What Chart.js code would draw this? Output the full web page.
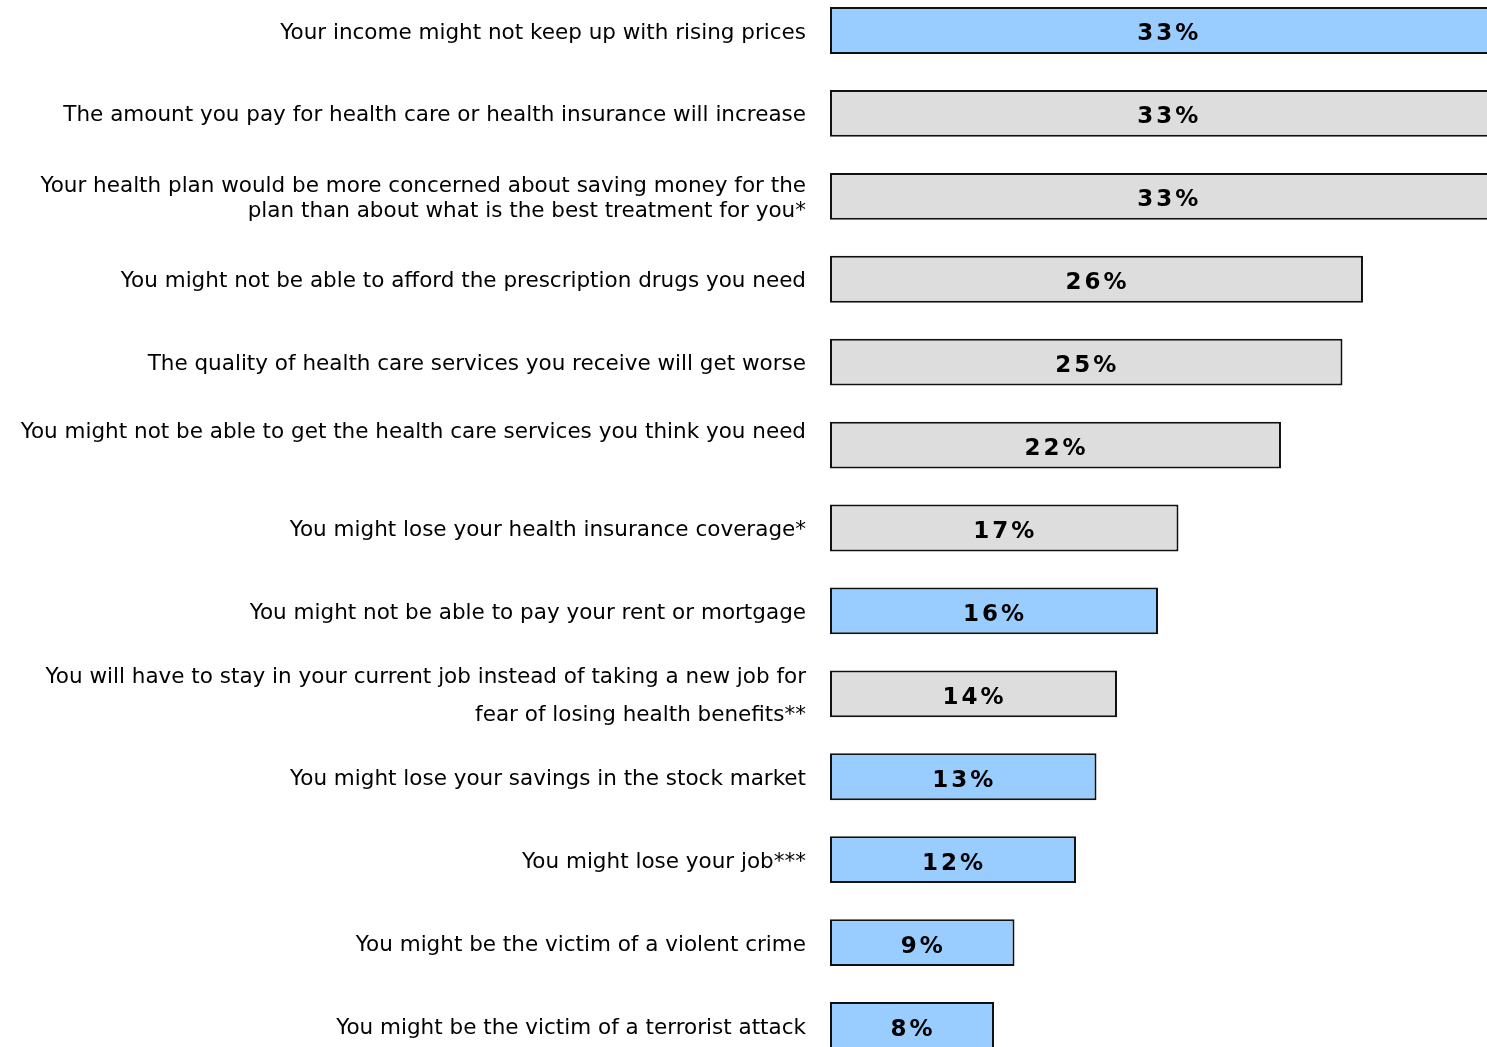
<!DOCTYPE html>
<html>
<head>
<meta charset="utf-8">
<script src="https://cdn.jsdelivr.net/npm/chart.js@4"></script>
<style>
  html, body { margin: 0; padding: 0; background: #fff; overflow: hidden; }
  #wrap { position: absolute; left: 0; top: -11px; width: 1487px; height: 1078px; }
</style>
</head>
<body>
<div id="wrap"><canvas id="chart"></canvas></div>
<script>
// Worry items (multi-line labels kept as arrays)
const categories = [
  'Your income might not keep up with rising prices',
  'The amount you pay for health care or health insurance will increase',
  ['Your health plan would be more concerned about saving money for the', 'plan than about what is the best treatment for you*'],
  'You might not be able to afford the prescription drugs you need',
  'The quality of health care services you receive will get worse',
  ['You might not be able to get the health care services you think you need', ''],
  'You might lose your health insurance coverage*',
  'You might not be able to pay your rent or mortgage',
  ['You will have to stay in your current job instead of taking a new job for', 'fear of losing health benefits**'],
  'You might lose your savings in the stock market',
  'You might lose your job***',
  'You might be the victim of a violent crime',
  'You might be the victim of a terrorist attack'
];

// Percent worried
const values = [33, 33, 33, 26, 25, 22, 17, 16, 14, 13, 12, 9, 8];

// Which items are health related (grey) vs general (blue)
const healthItem = [false, true, true, true, true, true, true, false, true, false, false, false, false];

const BLUE = '#99CCFF';
const GREY = '#DDDDDD';

// Draw the % labels centred in each bar
const valueLabels = {
  id: 'valueLabels',
  afterDatasetsDraw(chart) {
    const ctx = chart.ctx;
    const x = chart.scales.x;
    const meta = chart.getDatasetMeta(0);
    ctx.save();
    ctx.font = 'bold 23px "DejaVu Sans"';
    ctx.letterSpacing = '3px';
    ctx.fillStyle = '#000';
    ctx.textAlign = 'center';
    ctx.textBaseline = 'middle';
    meta.data.forEach((bar, i) => {
      const cx = x.getPixelForValue(values[i] / 2) + 1;
      ctx.fillText(values[i] + '%', cx, bar.y + 4);
    });
    ctx.restore();
  }
};

// Per-label line spacing, to follow the original layout
const lineHeights = [1, 1, 25, 1, 1, 30, 1, 1, 38, 1, 1, 1, 1];

new Chart(document.getElementById('chart'), {
  type: 'bar',
  data: {
    labels: categories,
    datasets: [{
      data: values,
      backgroundColor: healthItem.map(h => h ? GREY : BLUE),
      borderColor: '#111',
      borderWidth: 2,
      borderSkipped: false,
      categoryPercentage: 1,
      barPercentage: 0.565
    }]
  },
  options: {
    indexAxis: 'y',
    responsive: true,
    maintainAspectRatio: false,
    animation: false,
    layout: { padding: 0 },
    plugins: {
      legend: { display: false },
      tooltip: { enabled: false }
    },
    scales: {
      x: {
        display: false,
        min: 0,
        max: 32.05
      },
      y: {
        grid: { display: false, drawTicks: false },
        border: { display: false },
        afterFit(scale) {
          scale.width = 830;
          scale.paddingTop = 0;
          scale.paddingBottom = 0;
        },
        ticks: {
          padding: 24,
          labelOffset: 2.5,
          color: '#000',
          autoSkip: false,
          font: (c) => ({
            family: '"DejaVu Sans"',
            size: 21.5,
            lineHeight: lineHeights[c.index] > 1 ? lineHeights[c.index] + 'px' : 1.2
          })
        }
      }
    }
  },
  plugins: [valueLabels]
});
</script>
</body>
</html>
